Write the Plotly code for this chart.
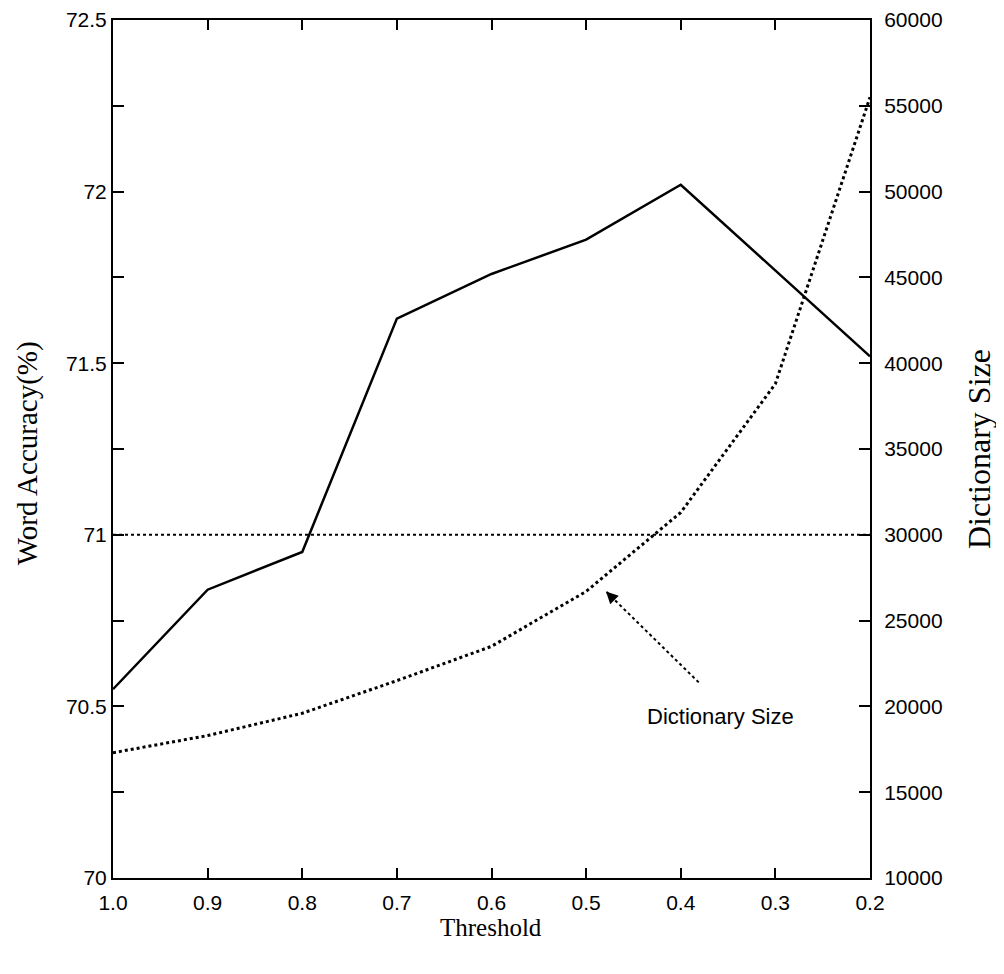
import plotly.graph_objects as go

# ---- data ----
thresholds = [1.0, 0.9, 0.8, 0.7, 0.6, 0.5, 0.4, 0.3, 0.2]
word_accuracy = [70.55, 70.84, 70.95, 71.63, 71.76, 71.86, 72.02, 71.77, 71.52]
dictionary_size = [17300, 18300, 19600, 21500, 23500, 26700, 31300, 38800, 55500]
baseline_x = [1.0, 0.2]
baseline_acc = [71.0, 71.0]

x_ticks = [1.0, 0.9, 0.8, 0.7, 0.6, 0.5, 0.4, 0.3, 0.2]
x_ticktext = ["1.0", "0.9", "0.8", "0.7", "0.6", "0.5", "0.4", "0.3", "0.2"]
y1_ticks = [70, 70.25, 70.5, 70.75, 71, 71.25, 71.5, 71.75, 72, 72.25, 72.5]
y1_ticktext = ["70", "", "70.5", "", "71", "", "71.5", "", "72", "", "72.5"]
y2_ticks = [10000, 15000, 20000, 25000, 30000, 35000, 40000, 45000, 50000, 55000, 60000]
y2_ticktext = [str(v) for v in y2_ticks]

x_title = "Threshold"
y1_title = "Word Accuracy(%)"
y2_title = "Dictionary Size"

# annotation (label + dotted arrow) positions, in data units
label_text = "Dictionary Size"
label_pos = (0.358, 70.47)
arrow_tail = (0.381, 70.57)
arrow_head = (0.479, 70.835)

SANS = "Liberation Sans, Arial, sans-serif"
SERIF = "Liberation Serif, Times New Roman, serif"

fig = go.Figure()

fig.add_trace(go.Scatter(
    x=baseline_x, y=baseline_acc, mode="lines",
    line=dict(color="black", width=2, dash="dot"),
    showlegend=False, hoverinfo="skip"))

fig.add_trace(go.Scatter(
    x=thresholds, y=word_accuracy, mode="lines",
    line=dict(color="black", width=2.5),
    name="Word Accuracy", showlegend=False))

fig.add_trace(go.Scatter(
    x=thresholds, y=dictionary_size, mode="lines", yaxis="y2",
    line=dict(color="black", width=3, dash="dot"),
    name="Dictionary Size", showlegend=False))

# dotted arrow shaft
fig.add_shape(type="line", xref="x", yref="y",
              x0=arrow_tail[0], y0=arrow_tail[1],
              x1=arrow_head[0], y1=arrow_head[1],
              line=dict(color="black", width=2, dash="dot"))
# arrow head
fig.add_annotation(x=arrow_head[0], y=arrow_head[1], xref="x", yref="y",
                   text="", showarrow=True, ax=9, ay=9,
                   arrowhead=2, arrowsize=1.2, arrowwidth=2, arrowcolor="black")
# label
fig.add_annotation(x=label_pos[0], y=label_pos[1], xref="x", yref="y",
                   text=label_text, showarrow=False,
                   font=dict(family=SANS, size=22, color="black"))

# axis titles
fig.add_annotation(x=0.499, y=-0.058, xref="paper", yref="paper",
                   text=x_title, showarrow=False,
                   xanchor="center", yanchor="middle",
                   font=dict(family=SERIF, size=25, color="black"))
fig.add_annotation(x=-0.1136, y=0.495, xref="paper", yref="paper",
                   text=y1_title, showarrow=False, textangle=-90,
                   xanchor="center", yanchor="middle",
                   font=dict(family=SERIF, size=29, color="black"))
fig.add_annotation(x=1.144, y=0.5, xref="paper", yref="paper",
                   text=y2_title, showarrow=False, textangle=-90,
                   xanchor="center", yanchor="middle",
                   font=dict(family=SERIF, size=32, color="black"))

fig.update_layout(
    width=996, height=958,
    margin=dict(l=105, r=134, t=12, b=88, autoexpand=False),
    paper_bgcolor="white", plot_bgcolor="white",
    xaxis=dict(
        range=[1.0, 0.2], tickvals=x_ticks, ticktext=x_ticktext,
        ticks="inside", ticklen=10, tickwidth=1.5, tickcolor="black",
        showline=True, linecolor="black", linewidth=2, mirror="ticks",
        showgrid=False, zeroline=False, ticklabelstandoff=5,
        tickfont=dict(family=SANS, size=21, color="black"),
    ),
    yaxis=dict(
        range=[70, 72.5], tickvals=y1_ticks, ticktext=y1_ticktext,
        ticks="inside", ticklen=11, tickwidth=1.5, tickcolor="black",
        showline=True, linecolor="black", linewidth=2,
        showgrid=False, zeroline=False,
        tickfont=dict(family=SANS, size=21, color="black"),
    ),
    yaxis2=dict(
        range=[10000, 60000], tickvals=y2_ticks, ticktext=y2_ticktext,
        overlaying="y", side="right",
        ticks="inside", ticklen=11, tickwidth=1.5, tickcolor="black",
        showline=True, linecolor="black", linewidth=2,
        showgrid=False, zeroline=False, ticklabelstandoff=8,
        tickfont=dict(family=SANS, size=21, color="black"),
    ),
)

fig.write_html("out.html")
